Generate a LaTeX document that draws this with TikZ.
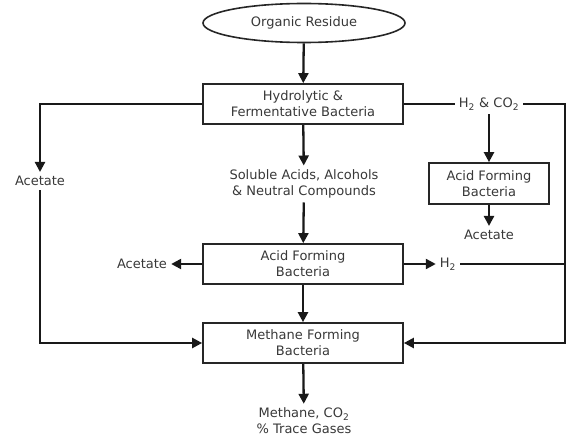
\documentclass[tikz,border=0pt]{standalone}
\usepackage{fontspec}
\setmainfont{DejaVu Sans}
\usetikzlibrary{arrows.meta,shapes.geometric}
\begin{document}
\begin{tikzpicture}[x=1pt,y=-1pt,
  every node/.style={font=\fontsize{13}{16}\selectfont, text=black!78},
  procbox/.style={draw=black!85, line width=1.7pt, minimum width=200pt, minimum height=40pt, align=center, inner sep=0pt},
  lbl/.style={align=center, inner sep=4pt},
  conn/.style={line width=2.3pt, draw=black!90},
  arr/.style={conn, -{Triangle[length=10pt,width=10pt]}}]
\useasboundingbox (0,0) rectangle (567,441);
\node[ellipse, draw=black!85, line width=1.6pt, minimum width=202pt, minimum height=39pt, inner sep=0pt] (res) at (304,23) {Organic Residue};
\node[procbox] (hyd) at (303,104) {Hydrolytic \&\\Fermentative Bacteria};
\node[lbl] (sol) at (304,184) {Soluble Acids, Alcohols\\\& Neutral Compounds};
\node[procbox] (afb) at (303,264) {Acid Forming\\Bacteria};
\node[procbox] (mfb) at (303,343) {Methane Forming\\Bacteria};
\node[lbl] (gas) at (304,421) {Methane, CO\textsubscript{2}\\\% Trace Gases};
\node[lbl] (acL) at (40,181) {Acetate};
\node[lbl] (acM) at (142,264) {Acetate};
\node[lbl] (h2co2) at (489,104) {H\textsubscript{2} \& CO\textsubscript{2}};
\node[procbox, minimum width=120pt, minimum height=41pt] (afb2) at (489,183.5) {Acid Forming\\Bacteria};
\node[lbl] (acR) at (489,235) {Acetate};
\node[lbl] (h2) at (448,264) {H\textsubscript{2}};
\coordinate (ne) at (565,104);
\coordinate (se) at (565,343);
\draw[arr] (res) -- (hyd);
\draw[arr] (hyd) -- (sol);
\draw[arr] (sol) -- (afb);
\draw[arr] (afb) -- (mfb);
\draw[arr] (mfb) -- (gas);
\draw[arr] (hyd.west) -| (acL.north);
\draw[arr] (acL.south) |- (mfb.west);
\draw[conn] (hyd.east) -- (h2co2.west);
\draw[arr] (h2co2.east) -- (ne) -- (se) -- (mfb.east);
\draw[arr] (h2co2) -- (afb2);
\draw[arr] (afb2) -- (acR);
\draw[arr] (afb.west) -- (acM.east);
\draw[arr] (afb.east) -- (h2.west);
\draw[conn] (h2.east) -- (h2.east -| se);
\end{tikzpicture}
\end{document}
